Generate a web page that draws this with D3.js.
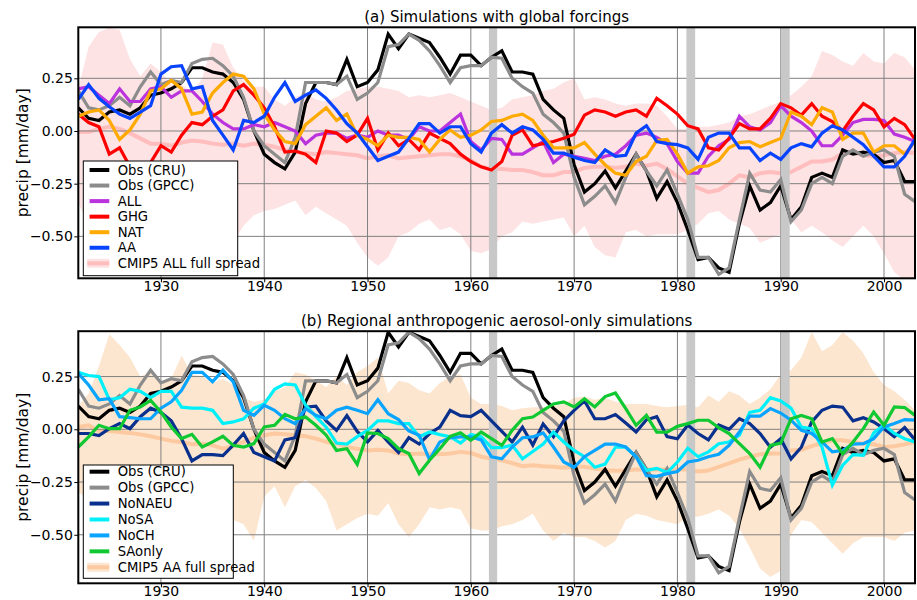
<!DOCTYPE html>
<html>
<head>
<meta charset="utf-8">
<script src="https://cdn.jsdelivr.net/npm/d3@7"></script>
<style>
  body { margin: 0; background: #fff; }
  svg { display: block; }
  text { font-family: "DejaVu Sans", sans-serif; fill: #000; }
</style>
</head>
<body>
<svg id="chart" width="917" height="600"></svg>
<script>
// ---- data: annual precipitation anomalies [mm/day], 1922-2003 ----
const years = d3.range(1922, 2004);

const obsCRU = [0.11,0.06,0.05,0.09,0.10,0.08,0.11,0.17,0.18,0.20,0.23,0.30,0.30,0.28,0.27,0.23,0.15,0.00,-0.11,-0.15,-0.18,-0.10,0.13,0.23,0.23,0.22,0.34,0.21,0.23,0.29,0.46,0.39,0.46,0.44,0.42,0.35,0.27,0.36,0.36,0.31,0.35,0.38,0.28,0.28,0.27,0.15,0.10,0.06,-0.16,-0.29,-0.25,-0.19,-0.27,-0.19,-0.11,-0.19,-0.32,-0.24,-0.34,-0.47,-0.61,-0.60,-0.65,-0.67,-0.44,-0.26,-0.375,-0.34,-0.26,-0.42,-0.36,-0.22,-0.20,-0.22,-0.09,-0.11,-0.10,-0.11,-0.15,-0.14,-0.24,-0.24];
const obsGPCC = [0.19,0.11,0.10,0.12,0.16,0.12,0.21,0.28,0.22,0.24,0.23,0.32,0.34,0.345,0.31,0.26,0.16,0.00,-0.07,-0.11,-0.15,-0.03,0.23,0.23,0.23,0.22,0.26,0.15,0.18,0.23,0.40,0.41,0.46,0.43,0.38,0.31,0.23,0.30,0.31,0.31,0.35,0.345,0.25,0.21,0.18,0.08,0.04,-0.01,-0.22,-0.35,-0.31,-0.26,-0.34,-0.22,-0.11,-0.19,-0.26,-0.185,-0.30,-0.42,-0.60,-0.60,-0.68,-0.65,-0.42,-0.20,-0.28,-0.29,-0.23,-0.43,-0.375,-0.25,-0.22,-0.25,-0.12,-0.09,-0.12,-0.10,-0.09,-0.12,-0.30,-0.335];

// global-forcing experiments
const simALL = [0.20,0.21,0.17,0.13,0.20,0.14,0.14,0.20,0.21,0.16,0.19,0.19,0.14,0.08,0.04,0.01,0.01,0.03,0.02,0.04,0.02,0.00,-0.06,-0.02,-0.01,-0.01,-0.035,-0.02,-0.03,0.00,-0.02,-0.02,-0.04,0.02,0.00,0.00,0.04,0.08,-0.05,-0.09,-0.035,-0.04,-0.11,-0.11,-0.08,-0.05,-0.15,-0.11,-0.12,-0.13,-0.14,-0.12,-0.11,-0.07,-0.02,-0.01,-0.03,-0.06,-0.145,-0.20,-0.20,-0.12,-0.07,-0.04,0.07,0.02,0.005,0.04,0.12,0.07,0.04,0.00,-0.07,-0.07,-0.02,0.04,0.055,0.055,0.05,-0.015,-0.03,-0.05];
const simGHG = [0.08,0.04,0.02,-0.11,-0.08,-0.17,-0.21,-0.15,-0.07,-0.10,-0.02,0.04,0.03,0.07,0.10,0.19,0.22,0.17,0.11,0.02,-0.10,-0.095,-0.11,-0.15,0.00,-0.01,-0.05,-0.02,0.06,-0.09,-0.01,-0.07,-0.04,-0.09,-0.01,-0.035,-0.06,-0.11,-0.145,-0.17,-0.185,-0.145,-0.02,0.005,-0.07,-0.06,-0.05,-0.035,-0.015,0.075,0.10,0.09,0.07,0.09,0.10,0.07,0.155,0.12,0.08,0.025,0.01,-0.08,-0.09,-0.035,0.035,0.01,0.01,0.06,0.13,0.11,0.075,0.13,0.07,0.045,0.00,0.07,0.13,0.10,0.02,0.06,0.03,-0.04];
const simNAT = [0.07,0.09,0.10,0.05,-0.04,0.005,0.08,0.19,0.20,0.24,0.20,0.08,0.09,0.18,0.23,0.27,0.26,0.20,0.08,0.005,-0.05,-0.06,0.03,0.07,0.11,0.05,0.08,-0.02,-0.04,-0.07,-0.02,-0.03,-0.03,-0.04,-0.10,-0.04,0.005,-0.03,-0.02,0.005,0.045,0.05,0.07,0.08,0.05,-0.02,-0.08,-0.08,-0.08,-0.055,-0.11,-0.16,-0.20,-0.21,-0.145,-0.12,-0.045,-0.04,-0.11,-0.20,-0.17,-0.165,-0.14,-0.08,-0.055,-0.05,-0.075,-0.055,-0.035,0.09,0.07,0.03,0.11,0.09,-0.04,-0.01,-0.01,-0.10,-0.07,-0.07,-0.11,-0.05];
const simAA = [0.15,0.22,0.155,0.115,0.08,0.06,0.09,0.12,0.27,0.305,0.31,0.20,0.21,0.05,-0.02,-0.09,0.05,0.04,0.07,0.16,0.23,0.14,0.17,0.195,0.155,0.10,0.035,-0.01,-0.075,-0.14,-0.12,-0.10,-0.035,0.035,0.035,-0.01,0.02,0.02,-0.06,-0.10,-0.01,0.03,-0.01,0.02,0.005,-0.04,-0.105,-0.105,-0.125,-0.14,-0.15,-0.09,-0.12,-0.115,-0.01,0.025,-0.05,-0.06,-0.065,-0.08,-0.135,-0.03,-0.01,-0.01,-0.08,-0.08,-0.14,-0.105,-0.135,-0.08,-0.06,-0.075,-0.01,0.025,0.005,-0.03,-0.065,-0.12,-0.17,-0.17,-0.12,-0.04];

// CMIP5 ALL ensemble: mean, min, max
const cmipAllMean = [-0.005,-0.005,0.01,0.02,0.01,-0.01,-0.035,-0.06,-0.06,-0.07,-0.055,-0.045,-0.05,-0.06,-0.065,-0.06,-0.07,-0.06,-0.065,-0.075,-0.09,-0.10,-0.105,-0.11,-0.10,-0.105,-0.11,-0.115,-0.13,-0.12,-0.115,-0.13,-0.125,-0.12,-0.115,-0.11,-0.11,-0.12,-0.14,-0.17,-0.18,-0.18,-0.185,-0.185,-0.195,-0.21,-0.21,-0.195,-0.195,-0.175,-0.17,-0.17,-0.175,-0.17,-0.155,-0.165,-0.155,-0.18,-0.215,-0.25,-0.27,-0.29,-0.28,-0.25,-0.21,-0.22,-0.20,-0.195,-0.20,-0.195,-0.17,-0.145,-0.145,-0.135,-0.105,-0.10,-0.115,-0.12,-0.115,-0.105,-0.10,-0.105];
const cmipAllMax = [0.20,0.40,0.47,0.49,0.48,0.34,0.26,0.32,0.28,0.22,0.22,0.18,0.25,0.42,0.41,0.30,0.24,0.21,0.21,0.15,0.12,0.16,0.18,0.15,0.14,0.16,0.19,0.20,0.21,0.21,0.20,0.19,0.16,0.17,0.16,0.17,0.18,0.16,0.14,0.12,0.10,0.11,0.15,0.16,0.17,0.19,0.20,0.23,0.25,0.15,0.16,0.15,0.13,0.12,0.13,0.13,0.12,0.07,0.01,0.01,0.02,0.02,0.03,0.04,0.07,0.08,0.10,0.12,0.14,0.17,0.21,0.26,0.38,0.36,0.33,0.31,0.37,0.33,0.32,0.37,0.35,0.29];
const cmipAllMin = [-0.34,-0.45,-0.50,-0.48,-0.45,-0.42,-0.45,-0.48,-0.47,-0.45,-0.43,-0.45,-0.47,-0.50,-0.52,-0.53,-0.45,-0.40,-0.38,-0.37,-0.35,-0.33,-0.40,-0.36,-0.39,-0.42,-0.45,-0.53,-0.60,-0.64,-0.60,-0.50,-0.48,-0.44,-0.42,-0.47,-0.455,-0.49,-0.57,-0.58,-0.56,-0.50,-0.48,-0.43,-0.44,-0.43,-0.42,-0.41,-0.50,-0.45,-0.55,-0.59,-0.60,-0.48,-0.47,-0.50,-0.49,-0.49,-0.49,-0.47,-0.44,-0.39,-0.38,-0.42,-0.44,-0.46,-0.53,-0.51,-0.49,-0.42,-0.48,-0.45,-0.48,-0.52,-0.55,-0.50,-0.45,-0.50,-0.58,-0.67,-0.71,-0.71];

// regional aerosol experiments
const simNoNAEU = [-0.02,-0.02,-0.03,0.003,0.027,0.003,0.06,0.10,0.08,0.04,-0.045,-0.15,-0.12,-0.12,-0.125,-0.075,-0.02,-0.11,-0.13,-0.15,-0.05,-0.04,0.105,0.11,0.04,-0.005,0.065,-0.01,-0.06,-0.005,-0.06,-0.11,-0.04,-0.07,-0.02,0.01,0.09,0.065,0.06,0.09,0.04,-0.01,-0.06,0.01,-0.075,0.025,-0.035,0.04,0.09,0.135,0.05,0.05,0.07,0.03,-0.013,0.045,0.06,-0.035,-0.045,0.02,-0.02,-0.05,0.02,0.00,0.05,0.027,-0.02,-0.085,-0.045,-0.14,-0.085,0.035,0.09,0.11,0.105,0.04,0.055,0.035,0.003,-0.035,0.008,-0.05];
const simNoSA = [0.27,0.255,0.25,0.14,0.15,0.19,0.18,0.15,0.18,0.18,0.105,0.10,0.10,0.09,0.027,0.035,0.05,0.10,0.12,0.19,0.215,0.21,0.115,0.06,0.01,-0.065,-0.07,-0.035,-0.005,0.04,0.04,0.027,0.027,-0.035,-0.013,-0.025,-0.035,-0.065,-0.025,-0.035,-0.087,-0.087,-0.075,-0.14,-0.105,-0.07,-0.013,-0.06,-0.10,-0.13,-0.18,-0.165,-0.085,-0.085,-0.13,-0.195,-0.185,-0.205,-0.155,-0.09,-0.13,-0.107,-0.068,-0.06,-0.028,0.08,0.09,0.15,0.134,0.10,0.01,0.003,-0.085,-0.265,-0.17,-0.12,-0.123,-0.017,0.02,-0.02,-0.045,-0.06];
const simNoCH = [0.265,0.21,0.14,0.145,0.06,0.055,0.05,0.05,0.10,0.13,0.185,0.27,0.27,0.225,0.28,0.225,0.09,0.066,0.114,0.09,0.05,0.027,0.098,0.066,0.05,0.09,0.105,0.09,0.074,0.14,0.074,0.046,-0.008,-0.028,-0.144,-0.06,-0.04,-0.036,-0.036,-0.05,-0.13,-0.14,-0.084,-0.04,-0.036,-0.017,-0.084,-0.155,-0.18,-0.13,-0.10,-0.07,-0.07,-0.084,-0.13,-0.22,-0.223,-0.21,-0.20,-0.155,-0.147,-0.13,-0.118,-0.076,-0.013,0.062,0.062,0.098,0.077,0.043,-0.005,-0.02,-0.06,-0.107,-0.10,-0.07,-0.068,-0.044,0.011,0.027,0.046,0.043];
const simSAonly = [-0.084,-0.036,0.019,0.003,0.003,0.09,0.106,0.137,0.082,0.011,-0.044,-0.024,-0.084,-0.06,-0.033,-0.076,-0.084,-0.068,0.011,0.019,0.071,0.05,0.058,0.019,-0.028,-0.10,-0.092,-0.166,-0.017,-0.02,-0.044,-0.092,-0.115,-0.21,-0.147,-0.092,-0.033,-0.017,-0.052,-0.013,-0.044,-0.076,-0.005,0.05,0.058,0.09,0.12,0.13,0.106,0.145,0.106,0.155,0.172,0.098,0.019,0.066,-0.013,-0.013,0.014,0.027,0.043,0.043,0.008,-0.02,-0.068,-0.115,-0.18,-0.076,-0.065,0.05,0.066,0.05,-0.06,-0.044,-0.115,-0.06,0.003,0.082,0.019,0.106,0.103,0.066];

// CMIP5 AA ensemble: mean, min, max
const cmipAaMean = [0.011,0.019,-0.008,-0.008,-0.013,-0.017,-0.024,-0.033,-0.044,-0.055,-0.06,-0.071,-0.068,-0.076,-0.092,-0.08,-0.06,-0.04,-0.028,-0.02,-0.024,-0.028,-0.033,-0.044,-0.06,-0.068,-0.084,-0.092,-0.10,-0.097,-0.10,-0.115,-0.118,-0.115,-0.118,-0.118,-0.115,-0.107,-0.112,-0.13,-0.139,-0.147,-0.16,-0.175,-0.17,-0.175,-0.178,-0.182,-0.178,-0.178,-0.186,-0.194,-0.197,-0.195,-0.19,-0.19,-0.19,-0.19,-0.19,-0.19,-0.20,-0.195,-0.178,-0.162,-0.144,-0.13,-0.118,-0.115,-0.115,-0.10,-0.097,-0.08,-0.065,-0.052,-0.052,-0.06,-0.068,-0.071,-0.084,-0.08,-0.071,-0.06];
const cmipAaMax = [0.11,0.17,0.30,0.45,0.40,0.34,0.25,0.27,0.22,0.24,0.35,0.26,0.25,0.22,0.24,0.21,0.15,0.13,0.14,0.18,0.20,0.27,0.26,0.23,0.20,0.25,0.21,0.27,0.30,0.34,0.17,0.23,0.22,0.185,0.17,0.22,0.25,0.26,0.15,0.12,0.12,0.11,0.09,0.10,0.105,0.105,0.11,0.12,0.15,0.155,0.14,0.15,0.13,0.12,0.12,0.12,0.11,0.105,0.11,0.115,0.105,0.16,0.13,0.18,0.16,0.12,0.15,0.19,0.26,0.28,0.34,0.46,0.37,0.40,0.46,0.42,0.36,0.27,0.21,0.18,0.14,0.09];
const cmipAaMin = [-0.30,-0.33,-0.37,-0.40,-0.42,-0.40,-0.38,-0.40,-0.42,-0.40,-0.38,-0.40,-0.42,-0.44,-0.45,-0.43,-0.45,-0.53,-0.32,-0.27,-0.37,-0.27,-0.24,-0.28,-0.34,-0.48,-0.45,-0.42,-0.40,-0.41,-0.35,-0.45,-0.51,-0.45,-0.37,-0.38,-0.37,-0.38,-0.47,-0.48,-0.48,-0.46,-0.45,-0.43,-0.40,-0.48,-0.53,-0.49,-0.51,-0.51,-0.53,-0.56,-0.53,-0.43,-0.40,-0.41,-0.43,-0.44,-0.45,-0.415,-0.415,-0.40,-0.38,-0.41,-0.47,-0.56,-0.66,-0.70,-0.67,-0.50,-0.43,-0.44,-0.49,-0.54,-0.59,-0.54,-0.51,-0.51,-0.51,-0.53,-0.49,-0.48];

// volcanic eruption periods (shaded)
const eruptions = [[1961.75, 1962.55], [1980.87, 1981.72], [1990.0, 1990.87]];

const xTickValues = [1930, 1940, 1950, 1960, 1970, 1980, 1990, 2000];
const yTickValues = [-0.5, -0.25, 0, 0.25];

// ---- layout ----
const svg = d3.select("#chart");
const plotLeft = 78.3, plotRight = 915;
const x = d3.scaleLinear().domain([1922, 2003]).range([plotLeft, plotRight]);

const panels = [
  {
    key: "a",
    title: "(a) Simulations with global forcings",
    top: 27.3, bottom: 278.3, yDomain: [-0.699, 0.492],
    series: [
      { label: "Obs (CRU)", values: obsCRU, color: "#000000" },
      { label: "Obs (GPCC)", values: obsGPCC, color: "#8c8c8c" },
      { label: "ALL", values: simALL, color: "#bb33dd" },
      { label: "GHG", values: simGHG, color: "#ff0000" },
      { label: "NAT", values: simNAT, color: "#ffaa00" },
      { label: "AA", values: simAA, color: "#0844ff" }
    ],
    spread: { label: "CMIP5 ALL full spread", mean: cmipAllMean, lo: cmipAllMin, hi: cmipAllMax,
              fill: "#fde3e3", line: "#ffbdbd" },
    legend: { x: 83.3, y: 161, w: 154.4, h: 114.7, firstRow: 170, rowStep: 15.55 }
  },
  {
    key: "b",
    title: "(b) Regional anthropogenic aerosol-only simulations",
    top: 331.2, bottom: 583.3, yDomain: [-0.730, 0.465],
    series: [
      { label: "Obs (CRU)", values: obsCRU, color: "#000000" },
      { label: "Obs (GPCC)", values: obsGPCC, color: "#8c8c8c" },
      { label: "NoNAEU", values: simNoNAEU, color: "#08308c" },
      { label: "NoSA", values: simNoSA, color: "#00f0fa" },
      { label: "NoCH", values: simNoCH, color: "#08a4ff" },
      { label: "SAonly", values: simSAonly, color: "#10c832" }
    ],
    spread: { label: "CMIP5 AA full spread", mean: cmipAaMean, lo: cmipAaMin, hi: cmipAaMax,
              fill: "#fde6cf", line: "#fdc9a0" },
    legend: { x: 83.3, y: 465, w: 150, h: 113.3, firstRow: 471.7, rowStep: 15.93 }
  }
];

function drawPanel(p) {
  const y = d3.scaleLinear().domain(p.yDomain).range([p.bottom, p.top]);
  const g = svg.append("g").attr("class", "panel-" + p.key);

  const clipId = "plot-clip-" + p.key;
  svg.append("defs").append("clipPath").attr("id", clipId)
    .append("rect")
    .attr("x", plotLeft).attr("y", p.top)
    .attr("width", plotRight - plotLeft).attr("height", p.bottom - p.top);

  const plot = g.append("g").attr("clip-path", `url(#${clipId})`);

  // ensemble spread
  const area = d3.area()
    .x((d, i) => x(years[i]))
    .y0((d, i) => y(p.spread.lo[i]))
    .y1((d, i) => y(p.spread.hi[i]));
  plot.append("path").datum(years).attr("d", area).attr("fill", p.spread.fill);

  const line = vals => d3.line().x((d, i) => x(years[i])).y((d, i) => y(vals[i]))(years);

  // ensemble mean
  plot.append("path").attr("d", line(p.spread.mean))
    .attr("fill", "none").attr("stroke", p.spread.line).attr("stroke-width", 4)
    .attr("stroke-linejoin", "round");

  // grid
  plot.selectAll(".vgrid").data(xTickValues).join("line")
    .attr("x1", d => x(d)).attr("x2", d => x(d))
    .attr("y1", p.top).attr("y2", p.bottom)
    .attr("stroke", "#808080").attr("stroke-width", 1);
  plot.selectAll(".hgrid").data(yTickValues).join("line")
    .attr("x1", plotLeft).attr("x2", plotRight)
    .attr("y1", d => y(d)).attr("y2", d => y(d))
    .attr("stroke", "#808080").attr("stroke-width", 1);

  // eruption shading
  plot.selectAll(".erupt").data(eruptions).join("rect")
    .attr("x", d => x(d[0])).attr("width", d => x(d[1]) - x(d[0]))
    .attr("y", p.top).attr("height", p.bottom - p.top)
    .attr("fill", "#c8c8c8");

  // series
  p.series.forEach(s => {
    plot.append("path").attr("d", line(s.values))
      .attr("fill", "none").attr("stroke", s.color).attr("stroke-width", 3.2)
      .attr("stroke-linejoin", "miter");
  });

  // axes
  const xAxis = d3.axisBottom(x).tickValues(xTickValues).tickFormat(d3.format("d"))
    .tickSize(4).tickPadding(-1.2);
  const gx = g.append("g").attr("transform", `translate(0,${p.bottom})`).call(xAxis);
  const yAxis = d3.axisLeft(y).tickValues(yTickValues).tickFormat(d3.format(".2f"))
    .tickSize(4).tickPadding(1.5);
  const gy = g.append("g").attr("transform", `translate(${plotLeft},0)`).call(yAxis);
  [gx, gy].forEach(a => {
    a.select(".domain").remove();
    a.selectAll("text").style("font-family", "'DejaVu Sans', sans-serif").style("font-size", "14px");
    a.selectAll("line").attr("stroke", "#000");
  });

  // frame
  g.append("rect")
    .attr("x", plotLeft).attr("y", p.top)
    .attr("width", plotRight - plotLeft).attr("height", p.bottom - p.top)
    .attr("fill", "none").attr("stroke", "#000").attr("stroke-width", 2);

  // title
  g.append("text")
    .attr("x", (plotLeft + plotRight) / 2).attr("y", p.top - 5.5)
    .attr("text-anchor", "middle").style("font-size", "15px")
    .text(p.title);

  // y label
  g.append("text")
    .attr("transform", `translate(22.5,${(p.top + p.bottom) / 2}) rotate(-90)`)
    .attr("text-anchor", "middle").attr("dominant-baseline", "central")
    .style("font-size", "15.5px")
    .text("precip [mm/day]");

  // legend
  const L = p.legend;
  const lg = g.append("g");
  lg.append("rect").attr("x", L.x).attr("y", L.y).attr("width", L.w).attr("height", L.h)
    .attr("fill", "#fff").attr("stroke", "#000").attr("stroke-width", 1);
  const entries = p.series.map(s => ({ label: s.label, color: s.color, band: false }))
    .concat([{ label: p.spread.label, color: p.spread.line, fill: p.spread.fill, band: true }]);
  entries.forEach((e, i) => {
    const cy = L.firstRow + i * L.rowStep;
    if (e.band) {
      lg.append("rect").attr("x", L.x + 4).attr("y", cy - 4.5).attr("width", 22).attr("height", 9)
        .attr("fill", e.fill);
      lg.append("line").attr("x1", L.x + 4).attr("x2", L.x + 26).attr("y1", cy).attr("y2", cy)
        .attr("stroke", e.color).attr("stroke-width", 4);
    } else {
      lg.append("line").attr("x1", L.x + 6.3).attr("x2", L.x + 26).attr("y1", cy).attr("y2", cy)
        .attr("stroke", e.color).attr("stroke-width", 4);
    }
    lg.append("text").attr("x", L.x + 34.4).attr("y", cy)
      .attr("dominant-baseline", "central").style("font-size", "13.2px")
      .text(e.label);
  });
}

panels.forEach(drawPanel);
</script>
</body>
</html>
